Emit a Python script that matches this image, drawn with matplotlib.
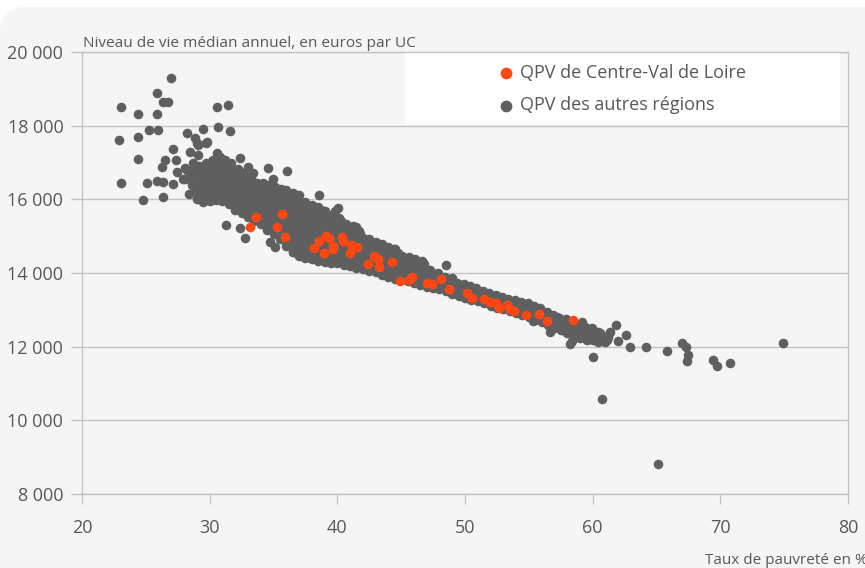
import matplotlib
matplotlib.use("Agg")
import matplotlib.pyplot as plt
from matplotlib.patches import FancyBboxPatch, Rectangle
from matplotlib.transforms import IdentityTransform
from matplotlib.ticker import FuncFormatter

plt.rcParams['font.family'] = ['Open Sans', 'DejaVu Sans']

# Quartiers prioritaires de Centre-Val de Loire
centre_x = [33.63, 35.69, 33.16, 35.25, 35.90, 38.17, 38.58, 39.11, 39.37, 39.68,
            39.63, 38.97, 40.34, 40.42, 41.04, 41.51, 40.99, 42.37, 42.89, 43.20,
            43.28, 44.30, 44.90, 45.63, 45.82, 46.99, 47.38, 48.11, 48.74, 50.17,
            50.52, 51.50, 51.95, 52.42, 52.68, 53.26, 53.52, 53.83, 54.75, 55.81,
            56.44, 58.43]
centre_y = [15530, 15603, 15259, 15259, 14971, 14672, 14871, 15006, 14944, 14735,
            14645, 14553, 14987, 14879, 14762, 14700, 14537, 14238, 14463, 14374,
            14173, 14301, 13793, 13812, 13902, 13722, 13695, 13831, 13560, 13451,
            13315, 13288, 13223, 13196, 13044, 13134, 13017, 12979, 12854, 12889,
            12707, 12727]

# Quartiers prioritaires des autres régions
autres_x = [
    # points isolés, faible taux de pauvreté
    26.97, 25.85, 26.37, 26.76, 23.05, 24.36, 25.85, 30.55, 31.46, 25.25,
    25.98, 30.67, 31.59, 22.87, 24.36, 24.36, 23.05, 24.75, 25.07, 25.85,
    26.37, 27.15, 26.37, 27.15, 28.20, 28.85, 29.10, 29.77, 29.50, 28.46,
    29.06, 26.50, 26.24, 27.36, 27.46, 27.93, 28.20, 32.37, 34.59, 36.08,
    38.58, 31.28, 32.80, 28.98, 29.70, 28.07, 28.07, 28.72, 30.28, 30.81,
    33.02, 33.41, 32.50, 34.98, 32.37, 40.07, 41.46, 44.46, 46.73, 48.50,
    47.90, 34.72, 35.11, 36.55, 48.95,
    # nuage principal
    28.4, 28.6, 28.5, 28.7,
    29.0, 28.9, 29.1, 29.0, 29.2,
    29.5, 29.6, 29.4, 29.6, 29.5, 29.7,
    30.0, 30.1, 29.9, 30.1, 30.0, 30.2,
    30.5, 30.6, 30.4, 30.6, 30.5, 30.7, 30.6,
    31.0, 31.1, 30.9, 31.1, 31.0, 31.2,
    31.5, 31.6, 31.4, 31.6, 31.5, 31.7,
    32.0, 32.1, 31.9, 32.1, 32.0, 32.2,
    32.5, 32.6, 32.4, 32.6, 32.5, 32.7,
    33.0, 33.1, 32.9, 33.1, 33.0, 33.2,
    33.5, 33.6, 33.4, 33.6, 33.5, 33.7,
    34.0, 34.1, 33.9, 34.1, 34.0, 34.2,
    34.5, 34.6, 34.4, 34.6, 34.5, 34.7, 34.6,
    35.0, 35.1, 34.9, 35.1, 35.0, 35.2, 35.1,
    35.5, 35.6, 35.4, 35.6, 35.5, 35.7, 35.6,
    36.0, 36.1, 35.9, 36.1, 36.0, 36.2, 36.1, 36.0,
    36.5, 36.6, 36.4, 36.6, 36.5, 36.7, 36.6, 36.5,
    37.0, 37.1, 36.9, 37.1, 37.0, 37.2, 37.1, 37.0,
    37.5, 37.6, 37.4, 37.6, 37.5, 37.7, 37.6, 37.5,
    38.0, 38.1, 37.9, 38.1, 38.0, 38.2, 38.1, 38.0,
    38.5, 38.6, 38.4, 38.6, 38.5, 38.7, 38.6, 38.5,
    39.0, 39.1, 38.9, 39.1, 39.0, 39.2, 39.1, 39.0,
    39.5, 39.6, 39.4, 39.6, 39.5, 39.7, 39.6, 39.8,
    40.0, 40.1, 39.9, 40.1, 40.0, 40.2, 40.1,
    40.5, 40.6, 40.4, 40.6, 40.5, 40.7,
    41.0, 41.1, 40.9, 41.1, 41.0, 41.2,
    41.5, 41.6, 41.4, 41.6, 41.5, 41.7,
    42.0, 42.1, 41.9, 42.1, 42.0,
    42.5, 42.6, 42.4, 42.6, 42.5,
    43.0, 43.1, 42.9, 43.1, 43.0,
    43.5, 43.6, 43.4, 43.6, 43.5,
    44.0, 44.1, 43.9, 44.1, 44.0,
    44.5, 44.6, 44.4, 44.6, 44.5,
    45.0, 45.1, 44.9, 45.1,
    45.5, 45.6, 45.4, 45.6,
    46.0, 46.1, 45.9, 46.1,
    46.5, 46.6, 46.4, 46.6,
    47.0, 47.1, 46.9, 46.8,
    47.5, 47.6, 47.4,
    48.0, 48.1, 47.9,
    48.5, 48.6, 48.4,
    49.0, 49.1, 48.9,
    49.5, 49.6, 49.4,
    50.0, 50.1, 49.9,
    50.5, 50.6, 50.4,
    51.0, 51.1, 50.9,
    51.5, 51.6, 51.4,
    52.0, 52.1, 51.9,
    52.5, 52.6, 52.4,
    53.0, 53.1, 52.9,
    53.5, 53.6, 53.4,
    54.0, 54.1, 53.9,
    54.5, 54.6, 54.4,
    55.0, 55.1, 54.9,
    55.5, 55.6, 55.4, 55.3,
    56.0, 56.1, 55.9,
    56.5, 56.6, 56.4,
    57.0, 57.1, 56.9,
    57.5, 57.6, 57.4,
    58.0, 58.1, 57.9,
    58.5, 58.6, 58.4,
    59.0, 59.1, 58.9,
    59.5, 59.6, 59.4,
    60.0, 60.1, 59.9,
    60.5, 60.6, 60.4,
    61.0, 61.1,
    # coeur du nuage, quartiers intercalés
    29.25, 29.25, 29.25, 29.25,
    29.75, 29.75, 29.75, 29.75, 29.75,
    30.25, 30.25, 30.25, 30.25, 30.25,
    30.75, 30.75, 30.75, 30.75, 30.75,
    31.25, 31.25, 31.25, 31.25, 31.25,
    31.75, 31.75, 31.75, 31.75, 31.75,
    32.25, 32.25, 32.25, 32.25, 32.25,
    32.75, 32.75, 32.75, 32.75, 32.75,
    33.25, 33.25, 33.25, 33.25, 33.25,
    33.75, 33.75, 33.75, 33.75, 33.75,
    34.25, 34.25, 34.25, 34.25, 34.25,
    34.75, 34.75, 34.75, 34.75, 34.75, 34.75,
    35.25, 35.25, 35.25, 35.25, 35.25, 35.25,
    35.75, 35.75, 35.75, 35.75, 35.75, 35.75,
    36.25, 36.25, 36.25, 36.25, 36.25, 36.25, 36.25,
    36.75, 36.75, 36.75, 36.75, 36.75, 36.75, 36.75,
    37.25, 37.25, 37.25, 37.25, 37.25, 37.25, 37.25,
    37.75, 37.75, 37.75, 37.75, 37.75, 37.75, 37.75,
    38.25, 38.25, 38.25, 38.25, 38.25, 38.25, 38.25,
    38.75, 38.75, 38.75, 38.75, 38.75, 38.75, 38.75,
    39.25, 39.25, 39.25, 39.25, 39.25, 39.25,
    39.75, 39.75, 39.75, 39.75, 39.75, 39.75,
    40.25, 40.25, 40.25, 40.25, 40.25, 40.25,
    40.75, 40.75, 40.75, 40.75, 40.75,
    41.25, 41.25, 41.25, 41.25, 41.25,
    41.75, 41.75, 41.75, 41.75, 41.75,
    42.25, 42.25, 42.25, 42.25,
    42.75, 42.75, 42.75, 42.75,
    43.25, 43.25, 43.25, 43.25,
    43.75, 43.75, 43.75, 43.75,
    44.25, 44.25, 44.25, 44.25,
    44.75, 44.75, 44.75, 44.75,
    45.25, 45.25, 45.25,
    45.75, 45.75, 45.75,
    46.25, 46.25, 46.25,
    46.75, 46.75, 46.75,
    47.25, 47.25, 47.25,
    47.75, 47.75,
    48.25, 48.25,
    48.75, 48.75,
    49.25, 49.25,
    49.75, 49.75,
    50.25, 50.25,
    50.75, 50.75,
    51.25, 51.25,
    51.75, 51.75,
    52.25, 52.25,
    52.75, 52.75,
    53.25, 53.25,
    53.75, 53.75,
    54.25, 54.25,
    54.75, 54.75,
    55.25, 55.25,
    55.75, 55.75,
    # bord du nuage, taux élevés
    56.65, 57.17, 57.69, 59.13, 59.91, 60.56, 59.26, 58.74, 58.21, 57.69,
    56.91, 61.22,
    # points isolés, fort taux de pauvreté
    61.82, 62.65, 61.35, 62.00, 61.09, 60.43, 59.52, 58.35, 58.21, 59.99,
    60.72, 62.91, 64.14, 65.83, 66.96, 67.30, 67.48, 67.35, 69.44, 69.75,
    70.74, 74.87, 65.13,
]
autres_y = [
    19286, 18896, 18635, 18635, 18516, 18326, 18326, 18516, 18553, 17875,
    17875, 17964, 17848, 17612, 17684, 17096, 16436, 15991, 16436, 16507,
    16472, 16418, 16057, 17359, 17793, 17657, 17476, 17567, 17902, 17295,
    17205, 17069, 16888, 17069, 16752, 16552, 16797, 17115, 16843, 16778,
    16118, 15305, 14950, 17522, 17522, 16843, 16545, 16979, 17069, 17160,
    16888, 16708, 16708, 16545, 15215, 15758, 15259, 14645, 14282, 14228,
    13994, 14852, 14716, 14580, 13858,
    16150, 16380, 16600, 16820,
    16000, 16230, 16450, 16680, 16900,
    15920, 16150, 16370, 16600, 16820, 16990,
    15950, 16180, 16400, 16620, 16850, 17040,
    15980, 16200, 16430, 16650, 16880, 17100, 17250,
    15960, 16190, 16410, 16640, 16860, 17060,
    15870, 16100, 16320, 16550, 16770, 16980,
    15720, 15950, 16170, 16400, 16620, 16830,
    15620, 15850, 16070, 16300, 16520, 16690,
    15520, 15750, 15970, 16200, 16420, 16560,
    15420, 15650, 15870, 16100, 16300, 16450,
    15320, 15550, 15770, 16000, 16220, 16440,
    15170, 15400, 15620, 15850, 16070, 16300, 16400,
    15070, 15300, 15520, 15750, 15970, 16200, 16340,
    14920, 15150, 15370, 15600, 15820, 16050, 16280,
    14720, 14950, 15170, 15400, 15620, 15850, 16070, 16240,
    14570, 14800, 15020, 15250, 15470, 15700, 15920, 16180,
    14470, 14700, 14920, 15150, 15370, 15600, 15820, 16130,
    14420, 14650, 14870, 15100, 15320, 15550, 15770, 15940,
    14370, 14600, 14820, 15050, 15270, 15500, 15700, 15840,
    14320, 14550, 14770, 15000, 15220, 15450, 15650, 15790,
    14300, 14520, 14740, 14960, 15180, 15400, 15600, 15690,
    14280, 14500, 14720, 14940, 15160, 15380, 15580, 15680,
    14270, 14490, 14710, 14930, 15150, 15370, 15490,
    14220, 14440, 14660, 14880, 15100, 15330,
    14180, 14400, 14620, 14840, 15060, 15280,
    14140, 14360, 14580, 14800, 15000, 15150,
    14100, 14320, 14540, 14760, 14950,
    14060, 14280, 14500, 14720, 14930,
    14020, 14240, 14460, 14680, 14840,
    13950, 14170, 14390, 14610, 14780,
    13880, 14100, 14320, 14540, 14700,
    13840, 14060, 14280, 14500, 14640,
    13800, 14020, 14240, 14460,
    13770, 13990, 14210, 14430,
    13730, 13950, 14170, 14390,
    13680, 13900, 14120, 14320,
    13620, 13830, 14040, 14250,
    13590, 13800, 14000,
    13560, 13770, 13980,
    13500, 13710, 13900,
    13420, 13620, 13810,
    13370, 13560, 13740,
    13330, 13520, 13700,
    13280, 13460, 13640,
    13240, 13420, 13600,
    13180, 13350, 13510,
    13110, 13280, 13450,
    13060, 13230, 13390,
    13010, 13180, 13340,
    12960, 13130, 13300,
    12920, 13090, 13260,
    12870, 13040, 13220,
    12810, 12990, 13180,
    12730, 12910, 13100, 12700,
    12670, 12850, 13040,
    12600, 12780, 12950,
    12510, 12690, 12870,
    12440, 12620, 12790,
    12360, 12550, 12740,
    12290, 12480, 12680,
    12240, 12430, 12600,
    12210, 12380, 12530,
    12190, 12330, 12460,
    12160, 12300, 12410,
    12140, 12280,
    16080, 16300, 16520, 16750,
    16050, 16280, 16500, 16730, 16930,
    16070, 16300, 16520, 16760, 16960,
    16080, 16300, 16530, 16750, 16970,
    16030, 16250, 16480, 16700, 16910,
    15900, 16130, 16350, 16580, 16800,
    15780, 16010, 16230, 16460, 16680,
    15680, 15910, 16130, 16360, 16540,
    15580, 15810, 16030, 16260, 16440,
    15480, 15710, 15930, 16160, 16350,
    15360, 15590, 15810, 16040, 16260,
    15240, 15470, 15690, 15920, 16140, 16330,
    15110, 15340, 15560, 15790, 16010, 16230,
    14940, 15170, 15390, 15620, 15840, 16070,
    14760, 14990, 15210, 15440, 15660, 15890, 16110,
    14640, 14870, 15090, 15320, 15540, 15770, 15990,
    14560, 14790, 15010, 15240, 15460, 15690, 15900,
    14500, 14730, 14950, 15180, 15400, 15630, 15800,
    14450, 14680, 14900, 15130, 15350, 15580, 15750,
    14420, 14640, 14860, 15090, 15310, 15530, 15700,
    14400, 14620, 14840, 15060, 15280, 15500,
    14380, 14600, 14820, 15040, 15260, 15470,
    14350, 14570, 14790, 15010, 15230, 15420,
    14300, 14520, 14740, 14960, 15180,
    14270, 14490, 14710, 14930, 15150,
    14220, 14440, 14660, 14870, 15050,
    14180, 14400, 14620, 14830,
    14140, 14360, 14580, 14780,
    14080, 14300, 14520, 14720,
    14010, 14230, 14450, 14650,
    13960, 14180, 14400, 14600,
    13910, 14130, 14350, 14540,
    13880, 14100, 14320,
    13840, 14060, 14280,
    13800, 14020, 14240,
    13740, 13960, 14160,
    13700, 13900, 14080,
    13660, 13870,
    13620, 13820,
    13560, 13750,
    13500, 13680,
    13440, 13620,
    13390, 13560,
    13350, 13520,
    13300, 13460,
    13240, 13400,
    13190, 13340,
    13140, 13290,
    13090, 13240,
    13040, 13190,
    12990, 13150,
    12940, 13100,
    12880, 13040,
    12800, 12960,
    12409, 12816, 12680, 12680, 12501, 12365, 12319, 12455, 12545, 12455,
    12637, 12273,
    12582, 12328, 12409, 12165, 12184, 12138, 12184, 12165, 12075, 11730,
    10574, 12002, 12002, 11885, 12094, 11986, 11768, 11622, 11641, 11478,
    11551, 12111, 8818,
]

x_ticks = [20, 30, 40, 50, 60, 70, 80]
y_ticks = [8000, 10000, 12000, 14000, 16000, 18000, 20000]

label_centre = "QPV de Centre-Val de Loire"
label_autres = "QPV des autres régions"
title_y = "Niveau de vie médian annuel, en euros par UC"
title_x = "Taux de pauvreté en %"

col_centre = "#ff4714"
col_autres = "#5f5f5f"
col_text = "#585858"
col_grid = "#c2c2c2"
col_panel = "#f5f5f5"

W, H = 865, 568
fig = plt.figure(figsize=(W / 100, H / 100), dpi=100, facecolor="white")

# panneau gris à coin arrondi
panel = FancyBboxPatch((0, -60), W + 60, H - 7 + 60,
                       boxstyle="round,pad=0,rounding_size=26",
                       transform=IdentityTransform(),
                       facecolor=col_panel, edgecolor="none", zorder=-10)
fig.patches.append(panel)

ax = fig.add_axes([82 / W, 1 - 494 / H, (848 - 82) / W, (494 - 52) / H])
ax.set_zorder(1)
ax.patch.set_visible(False)
ax.set_xlim(20, 80)
ax.set_ylim(8000, 20000)
ax.set_xticks(x_ticks)
ax.set_yticks(y_ticks)
ax.yaxis.set_major_formatter(FuncFormatter(lambda v, p: f"{int(v):,}".replace(",", " ")))
ax.set_axisbelow(True)
ax.grid(axis="y", color=col_grid, linewidth=1.0)
for s in ax.spines.values():
    s.set_color(col_grid)
    s.set_linewidth(1.0)
ax.tick_params(axis="y", length=8, width=1.0, color=col_grid, pad=5.5,
               labelsize=13, labelcolor=col_text)
ax.tick_params(axis="x", length=7, width=1.0, color=col_grid, pad=11,
               labelsize=13, labelcolor=col_text)

# zone blanche de la légende
ax.add_patch(Rectangle((45.29, 18040), 79.36 - 45.29, 19985 - 18040,
                       facecolor="white", edgecolor="none", zorder=1.5))

sc_autres = ax.scatter(autres_x, autres_y, s=48, color=col_autres,
                       linewidths=0, zorder=3, label=label_autres)
sc_centre = ax.scatter(centre_x, centre_y, s=48, color=col_centre,
                       linewidths=0, zorder=4, label=label_centre)

leg = ax.legend(handles=[sc_centre, sc_autres], loc="upper left",
                bbox_to_anchor=(498.8 / W, 1 - 64 / H), bbox_transform=fig.transFigure,
                frameon=False, fontsize=13, scatterpoints=1, markerscale=1.22,
                handlelength=0.8, handletextpad=0.38, labelspacing=0.8,
                borderpad=0, borderaxespad=0)
for t in leg.get_texts():
    t.set_color(col_text)

fig.text(83 / W, 1 - 46.7 / H, title_y, ha="left", va="baseline",
         fontsize=11.1, color=col_text)
fig.text(868 / W, 1 - 564 / H, title_x, ha="right", va="baseline",
         fontsize=11, color=col_text)

fig.savefig("out.png", dpi=100, facecolor=fig.get_facecolor())
